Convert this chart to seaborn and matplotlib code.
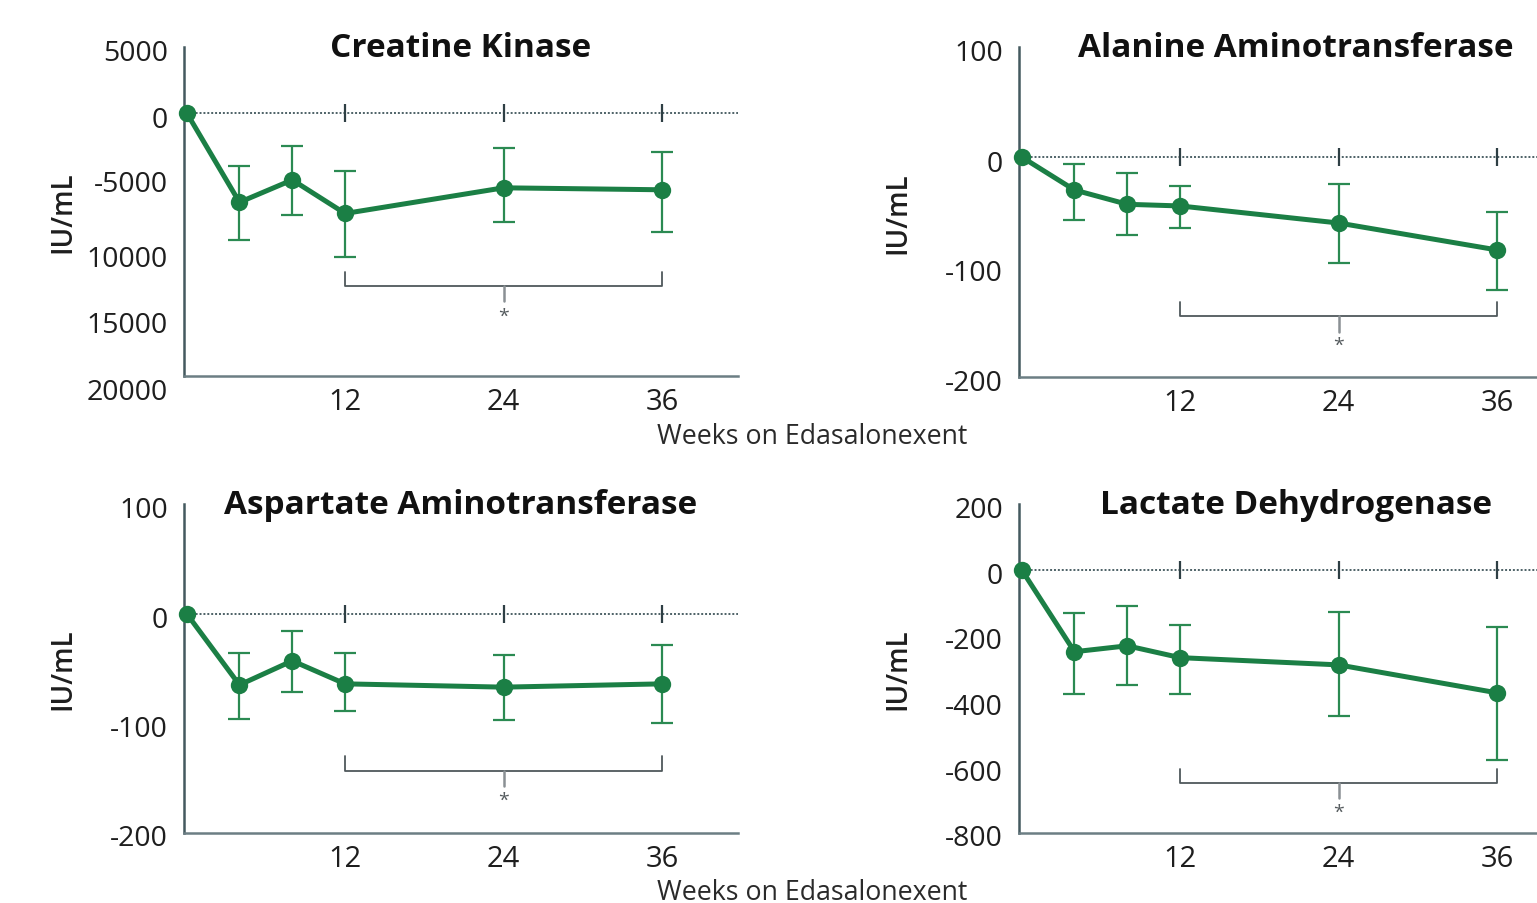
import numpy as np
import pandas as pd
import matplotlib
matplotlib.use("Agg")
import matplotlib.pyplot as plt
import matplotlib.transforms as mtransforms
import seaborn as sns

sns.set_theme(style="white")
plt.rcParams["font.family"] = ["Open Sans", "DejaVu Sans"]

# ---- data -------------------------------------------------------------
weeks = [0, 4, 8, 12, 24, 36]

ck_mean = [0, -6800, -5100, -7650, -5700, -5850]
ck_lo = [np.nan, -9650, -7750, -10950, -8280, -9050]
ck_hi = [np.nan, -4030, -2500, -4400, -2650, -2950]

alt_mean = [0, -30, -43, -44.5, -60, -84.5]
alt_lo = [np.nan, -57, -71, -64.5, -96, -121]
alt_hi = [np.nan, -6.5, -14.5, -26, -24.5, -50]

ast_mean = [0, -65, -43, -64, -67, -64]
ast_lo = [np.nan, -96, -71, -89, -97, -100]
ast_hi = [np.nan, -36, -15.5, -36, -38, -29]

ldh_mean = [0, -249, -231, -267, -289, -374]
ldh_lo = [np.nan, -377, -349, -377, -444, -578]
ldh_hi = [np.nan, -131, -109, -167, -128, -173]

titles = ["Creatine Kinase", "Alanine Aminotransferase",
          "Aspartate Aminotransferase", "Lactate Dehydrogenase"]
x_ticks = [12, 24, 36]
ck_ticks = [5000, 0, -5000, -10000, -15000, -20000]
ck_tick_labels = ["5000", "0", "-5000", "10000", "15000", "20000"]
alt_ticks = [100, 0, -100, -200]
ast_ticks = [100, 0, -100, -200]
ldh_ticks = [200, 0, -200, -400, -600, -800]
y_label = "IU/mL"
x_label = "Weeks on Edasalonexent"

# ---- styling ----------------------------------------------------------
GREEN = "#1b7f45"
ERR = "#2b8a52"
AXIS = "#44595f"
BRACKET = "#4f585c"

W, H = 1537, 904
fig = plt.figure(figsize=(W / 100, H / 100), dpi=100)


def px_axes(left, top, right, bottom):
    return fig.add_axes([left / W, 1 - bottom / H, (right - left) / W, (bottom - top) / H])


panels = [
    dict(box=(184, 48, 738, 377), mean=ck_mean, lo=ck_lo, hi=ck_hi, title=titles[0],
         ylim=(-20000, 5000), ticks=ck_ticks, labels=ck_tick_labels,
         label_drop=[2, 4, 2, 11, 11, 12],
         bracket=(-13150, -12080, -14300, -15450)),
    dict(box=(1019, 48, 1573, 378), mean=alt_mean, lo=alt_lo, hi=alt_hi, title=titles[1],
         ylim=(-200, 100), ticks=alt_ticks, labels=[str(t) for t in alt_ticks],
         label_drop=[2, 3, 2, 2],
         bracket=(-144.5, -132, -159, -171)),
    dict(box=(184, 505, 738, 834), mean=ast_mean, lo=ast_lo, hi=ast_hi, title=titles[2],
         ylim=(-200, 100), ticks=ast_ticks, labels=[str(t) for t in ast_ticks],
         label_drop=[2, 3, 2, 2],
         bracket=(-143.5, -130, -157, -170)),
    dict(box=(1019, 505, 1573, 834), mean=ldh_mean, lo=ldh_lo, hi=ldh_hi, title=titles[3],
         ylim=(-800, 200), ticks=ldh_ticks, labels=[str(t) for t in ldh_ticks],
         label_drop=[2, 3, 2, 2, 2, 2],
         bracket=(-647, -605, -693, -735)),
]

for p in panels:
    ax = px_axes(*p["box"])
    df = pd.DataFrame({"week": weeks, "change": p["mean"],
                       "lo": p["lo"], "hi": p["hi"]})

    # zero reference line with the week marks on it
    ax.axhline(0, color="#4d6166", lw=1.4, ls=(0, (1, 1)), zorder=1)
    ax.plot(x_ticks, [0] * len(x_ticks), ls="none", marker="|", ms=13,
            mew=1.6, color="#2e3f44", zorder=2)

    err_df = df.dropna()
    ax.errorbar(err_df["week"], err_df["change"],
                yerr=[err_df["change"] - err_df["lo"], err_df["hi"] - err_df["change"]],
                fmt="none", ecolor=ERR, elinewidth=1.6, capsize=8, capthick=1.6, zorder=3)

    sns.lineplot(data=df, x="week", y="change", ax=ax, color=GREEN, lw=3.6,
                 marker="o", markersize=12.5, markeredgewidth=0, zorder=4,
                 clip_on=False)

    # significance bracket from week 12 to week 36
    yb, ytop, ystub, ystar = p["bracket"]
    ax.plot([12, 12, 36, 36], [ytop, yb, yb, ytop], color=BRACKET, lw=1.3, zorder=2)
    ax.plot([24, 24], [yb, ystub], color="#8a9094", lw=1.8, zorder=2)
    ax.text(24, ystar, "*", ha="center", va="center", fontsize=14, color="#555b5e")

    ax.set_xlim(-0.2, 41.75)
    ax.set_ylim(*p["ylim"])
    ax.set_xticks(x_ticks)
    ax.set_xticklabels([str(t) for t in x_ticks])
    ax.set_yticks(p["ticks"])
    ax.set_yticklabels(p["labels"])
    ax.tick_params(axis="x", length=0, pad=8, labelsize=21, labelcolor="#1e1e1e")
    ax.tick_params(axis="y", direction="inout", length=13, width=1.6, color=AXIS,
                   pad=5, labelsize=20.5, labelcolor="#1e1e1e")
    for lab, drop in zip(ax.get_yticklabels(), p["label_drop"]):
        lab.set_transform(lab.get_transform() +
                          mtransforms.ScaledTranslation(0, -drop / 100, fig.dpi_scale_trans))

    for side in ("top", "right"):
        ax.spines[side].set_visible(False)
    ax.spines["left"].set_color(AXIS)
    ax.spines["left"].set_linewidth(1.8)
    ax.spines["bottom"].set_color("#6c7e84")
    ax.spines["bottom"].set_linewidth(1.8)

    ax.set_xlabel("")
    ax.set_ylabel(y_label, fontsize=20, fontweight="semibold", color="#1e1e1e")
    ax.yaxis.set_label_coords(-0.192, 0.5)

    ax.text(0.5, 1.0, p["title"], transform=ax.transAxes, ha="center", va="center",
            fontsize=24, fontweight="bold", color="#111111")

fig.text(812 / W, 1 - 437 / H, x_label, ha="center", va="center",
         fontsize=19.3, color="#2a2a2a")
fig.text(812 / W, 1 - 893 / H, x_label, ha="center", va="center",
         fontsize=19.3, color="#2a2a2a")

fig.savefig("out.png", dpi=100, facecolor="white")
